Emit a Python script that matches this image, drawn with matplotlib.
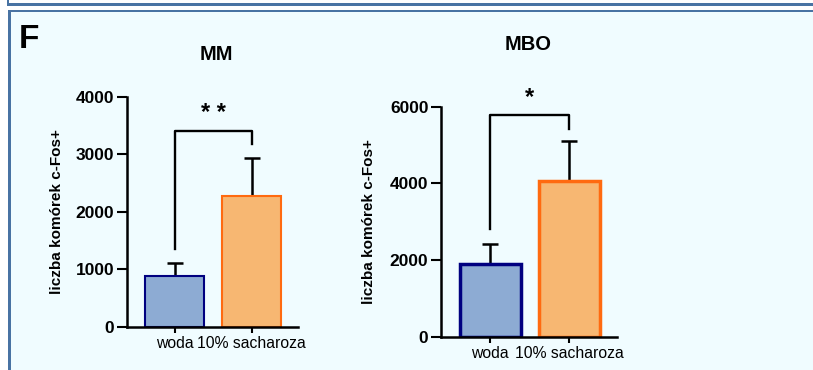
import matplotlib.pyplot as plt
from matplotlib.patches import Rectangle

plt.rcParams['font.family'] = ['Liberation Sans', 'DejaVu Sans']

# data
groups = ["woda", "10% sacharoza"]
mm_means = [890, 2280]
mm_sem = [215, 650]
mbo_means = [1900, 4050]
mbo_sem = [530, 1050]

# significance brackets: (bar height, left leg end, right leg end, label)
mm_sig = (3410, 1350, 3180, "* *")
mbo_sig = (5780, 2800, 5430, "*")

fill_colors = ["#8DABD3", "#F7B772"]
edge_colors = ["#000080", "#FF6A10"]
border = "#4873A3"


def bar_panel(ax, means, sem, sig, ymax, step, edge_lw):
    x = range(len(groups))
    ax.errorbar(x, means, yerr=[[0] * len(sem), sem], fmt="none",
                ecolor="black", elinewidth=1.8, capsize=6, capthick=1.8, zorder=1)
    ax.bar(x, means, width=0.77, color=fill_colors, edgecolor=edge_colors,
           linewidth=edge_lw, zorder=2)

    h, l_end, r_end, label = sig
    ax.plot([0, 0, 1, 1], [l_end, h, h, r_end], color="black", lw=1.7,
            clip_on=False, zorder=3)
    ax.text(0.5, h + ymax * 0.025, label, ha="center", va="bottom",
            fontsize=17, fontweight="bold")

    ax.set_xlim(-0.62, 1.6)
    ax.set_ylim(0, ymax)
    ax.set_yticks(range(0, ymax + 1, step))
    ax.set_xticks(list(x))
    ax.set_xticklabels(groups, fontsize=11.3)
    for t in ax.get_yticklabels():
        t.set_fontweight("bold")
        t.set_fontsize(12.5)
    ax.tick_params(axis="y", length=7, width=1.5, pad=2)
    ax.tick_params(axis="x", length=4, width=1.5, pad=3)
    ax.set_ylabel("liczba komórek c-Fos+", fontsize=11, fontweight="bold")
    ax.yaxis.set_label_coords(-0.37, 0.5)
    for s in ["top", "right"]:
        ax.spines[s].set_visible(False)
    for s in ["left", "bottom"]:
        ax.spines[s].set_linewidth(1.8)
    ax.set_facecolor("none")


fig = plt.figure(figsize=(8.13, 3.70), dpi=100)
fig.patch.set_facecolor("white")

W, H = 813, 370


def px_rect(x0, y0, x1, y1, color):
    fig.patches.append(Rectangle((x0 / W, 1 - y1 / H), (x1 - x0) / W, (y1 - y0) / H,
                                 transform=fig.transFigure, color=color, lw=0, zorder=-10))


# panel frame
px_rect(11, 12, W, H, "#F0FCFF")
px_rect(7, 0, 9, 6, border)
px_rect(7, 3, W, 6, border)
px_rect(8, 10, W, 12, border)
px_rect(8, 10, 11, H, border)

ax1 = fig.add_axes([0.1562, 0.117, 0.2103, 0.6216])
bar_panel(ax1, mm_means, mm_sem, mm_sig, 4000, 1000, 1.5)

ax2 = fig.add_axes([0.5424, 0.09, 0.2165, 0.6216])
bar_panel(ax2, mbo_means, mbo_sem, mbo_sig, 6000, 2000, 2.5)

fig.text(216 / W, 1 - 55 / H, "MM", fontsize=14.5, fontweight="bold",
         ha="center", va="center")
fig.text(528 / W, 1 - 45 / H, "MBO", fontsize=14.5, fontweight="bold",
         ha="center", va="center")
fig.text(29 / W, 1 - 40 / H, "F", fontsize=24, fontweight="bold",
         family=["Liberation Sans Narrow", "Liberation Sans"],
         ha="center", va="center")

fig.savefig("out.png", dpi=100, facecolor=fig.get_facecolor())
